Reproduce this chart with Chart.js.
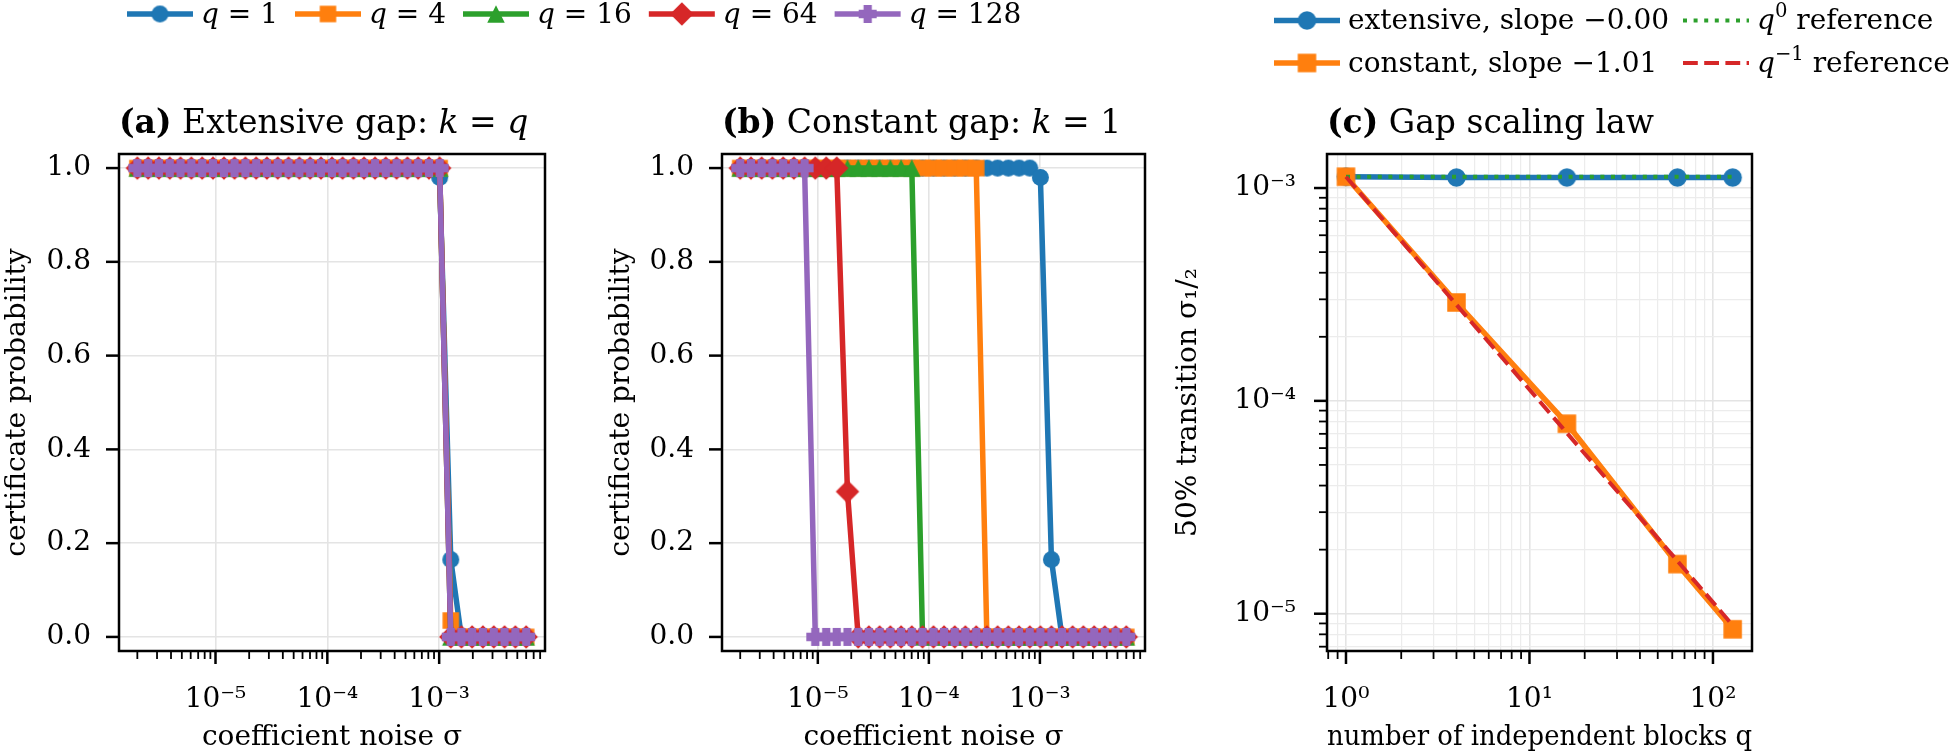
<!DOCTYPE html>
<html>
<head>
<meta charset="utf-8">
<script src="https://cdn.jsdelivr.net/npm/chart.js@4.4.1/dist/chart.umd.min.js"></script>
<style>
  html, body { margin: 0; padding: 0; background: #fff; }
  #wrap { position: relative; width: 1951px; height: 755px; overflow: hidden; }
  #wrap canvas { position: absolute; left: 0; top: 0; }
</style>
</head>
<body>
<div id="wrap">
  <canvas id="chartA" width="1951" height="755"></canvas>
  <canvas id="chartB" width="1951" height="755"></canvas>
  <canvas id="chartC" width="1951" height="755"></canvas>
</div>
<script>
// ---- data ----
const sigma = [
  2.00e-6, 2.50e-6, 3.12e-6, 3.90e-6, 4.87e-6, 6.08e-6, 7.60e-6, 9.49e-6, 1.19e-5, 1.48e-5,
  1.85e-5, 2.31e-5, 2.88e-5, 3.60e-5, 4.50e-5, 5.62e-5, 7.02e-5, 8.77e-5, 1.10e-4, 1.37e-4,
  1.71e-4, 2.13e-4, 2.67e-4, 3.33e-4, 4.16e-4, 5.20e-4, 6.49e-4, 8.11e-4, 1.01e-3, 1.27e-3,
  1.58e-3, 1.97e-3, 2.46e-3, 3.08e-3, 3.84e-3, 4.80e-3, 6.00e-3
];
const qValues = [1, 4, 16, 64, 128];

// (a) extensive gap, k = q
const probA_q1 = [1, 1, 1, 1, 1, 1, 1, 1, 1, 1,  1, 1, 1, 1, 1, 1, 1, 1, 1, 1,
                  1, 1, 1, 1, 1, 1, 1, 1, 0.98, 0.165,  0, 0, 0, 0, 0, 0, 0];
const probA_q4 = [1, 1, 1, 1, 1, 1, 1, 1, 1, 1,  1, 1, 1, 1, 1, 1, 1, 1, 1, 1,
                  1, 1, 1, 1, 1, 1, 1, 1, 1, 0.035,  0, 0, 0, 0, 0, 0, 0];
const probA_q16 = [1, 1, 1, 1, 1, 1, 1, 1, 1, 1,  1, 1, 1, 1, 1, 1, 1, 1, 1, 1,
                   1, 1, 1, 1, 1, 1, 1, 1, 1, 0,  0, 0, 0, 0, 0, 0, 0];
const probA_q64 = [1, 1, 1, 1, 1, 1, 1, 1, 1, 1,  1, 1, 1, 1, 1, 1, 1, 1, 1, 1,
                   1, 1, 1, 1, 1, 1, 1, 1, 1, 0,  0, 0, 0, 0, 0, 0, 0];
const probA_q128 = [1, 1, 1, 1, 1, 1, 1, 1, 1, 1,  1, 1, 1, 1, 1, 1, 1, 1, 1, 1,
                    1, 1, 1, 1, 1, 1, 1, 1, 1, 0,  0, 0, 0, 0, 0, 0, 0];

// (b) constant gap, k = 1
const probB_q1 = [1, 1, 1, 1, 1, 1, 1, 1, 1, 1,  1, 1, 1, 1, 1, 1, 1, 1, 1, 1,
                  1, 1, 1, 1, 1, 1, 1, 1, 0.98, 0.165,  0, 0, 0, 0, 0, 0, 0];
const probB_q4 = [1, 1, 1, 1, 1, 1, 1, 1, 1, 1,  1, 1, 1, 1, 1, 1, 1, 1, 1, 1,
                  1, 1, 1, 0, 0, 0, 0, 0, 0, 0,  0, 0, 0, 0, 0, 0, 0];
const probB_q16 = [1, 1, 1, 1, 1, 1, 1, 1, 1, 1,  1, 1, 1, 1, 1, 1, 1, 0, 0, 0,
                   0, 0, 0, 0, 0, 0, 0, 0, 0, 0,  0, 0, 0, 0, 0, 0, 0];
const probB_q64 = [1, 1, 1, 1, 1, 1, 1, 1, 1, 1,  0.31, 0, 0, 0, 0, 0, 0, 0, 0, 0,
                   0, 0, 0, 0, 0, 0, 0, 0, 0, 0,  0, 0, 0, 0, 0, 0, 0];
const probB_q128 = [1, 1, 1, 1, 1, 1, 1, 0, 0, 0,  0, 0, 0, 0, 0, 0, 0, 0, 0, 0,
                    0, 0, 0, 0, 0, 0, 0, 0, 0, 0,  0, 0, 0, 0, 0, 0, 0];

// (c) gap scaling law
const blockCounts = [1, 4, 16, 64, 128];
const sigmaHalfExtensive = [1.13e-3, 1.12e-3, 1.12e-3, 1.12e-3, 1.12e-3];
const sigmaHalfConstant = [1.13e-3, 2.90e-4, 7.81e-5, 1.71e-5, 8.45e-6];
const refFlat = [1.13e-3, 1.13e-3, 1.13e-3, 1.13e-3, 1.13e-3];
const refInverse = [1.13e-3, 2.83e-4, 7.06e-5, 1.77e-5, 8.83e-6];

// tick labels
const probTicks = [0, 0.2, 0.4, 0.6, 0.8, 1.0];

const colors = ['#1f77b4', '#ff7f0e', '#2ca02c', '#d62728', '#9467bd'];
const shapes = ['circle', 'square', 'triangle', 'diamond', 'plus'];
const shapeSizes = [17, 16.5, 17.5, 23.5, 18];

const FONT = '"DejaVu Serif", serif';
const GRID = '#e4e4e4';
const GRID_MINOR = '#ececec';
Chart.defaults.font.family = FONT;
Chart.defaults.color = '#000';

// ---- helpers ----
function markerImage(shape, size, color) {
  const n = Math.ceil(size) + 4;
  const c = document.createElement('canvas');
  c.width = n; c.height = n;
  const g = c.getContext('2d');
  const m = n / 2, h = size / 2;
  g.fillStyle = color;
  g.beginPath();
  if (shape === 'circle') {
    g.arc(m, m, h, 0, Math.PI * 2);
  } else if (shape === 'square') {
    g.rect(m - h, m - h, size, size);
  } else if (shape === 'triangle') {
    g.moveTo(m, m - h); g.lineTo(m + h, m + h); g.lineTo(m - h, m + h);
  } else if (shape === 'diamond') {
    g.moveTo(m, m - h); g.lineTo(m + h, m); g.lineTo(m, m + h); g.lineTo(m - h, m);
  } else if (shape === 'plus') {
    const a = size * 0.23;
    g.rect(m - a, m - h, 2 * a, size);
    g.rect(m - h, m - a, size, 2 * a);
  }
  g.closePath();
  g.fill();
  return c;
}
const markersAB = shapes.map((s, i) => markerImage(s, shapeSizes[i], colors[i]));

const SUP = {'-': '\u207B', '0': '\u2070', '1': '\u00B9', '2': '\u00B2', '3': '\u00B3',
             '4': '\u2074', '5': '\u2075', '6': '\u2076', '7': '\u2077', '8': '\u2078', '9': '\u2079'};
function powLabel(e) {
  return '10' + String(e).split('').map(ch => SUP[ch]).join('');
}

function logTicks(min, max) {
  const out = [];
  for (let e = Math.floor(Math.log10(min)); e <= Math.ceil(Math.log10(max)); e++) {
    for (let k = 1; k <= 9; k++) {
      const v = k * Math.pow(10, e);
      if (v >= min && v <= max) out.push({value: v, major: k === 1});
    }
  }
  return out;
}

function drawParts(ctx, parts, x, baseline, size) {
  ctx.save();
  ctx.fillStyle = '#000';
  ctx.textAlign = 'left';
  ctx.textBaseline = 'alphabetic';
  parts.forEach(p => {
    let fs = size, y = baseline, style = '';
    if (p.s === 'b') style = 'bold ';
    if (p.s === 'i') style = 'italic ';
    if (p.s === 'sup') { fs = size * 0.7; y = baseline - size * 0.42; }
    ctx.font = style + fs + 'px ' + FONT;
    ctx.fillText(p.t, x, y);
    x += ctx.measureText(p.t).width;
  });
  ctx.restore();
  return x;
}

// frame + matplotlib-like tick marks
const framePlugin = {
  id: 'mplFrame',
  afterDatasetsDraw(chart) {
    const ctx = chart.ctx, a = chart.chartArea;
    ctx.save();
    ctx.strokeStyle = '#000';
    Object.values(chart.scales).forEach(s => {
      s.ticks.forEach(t => {
        const p = s.getPixelForValue(t.value);
        const len = t.major ? 13 : 8;
        ctx.lineWidth = t.major ? 2.5 : 1.8;
        ctx.beginPath();
        if (s.isHorizontal()) { ctx.moveTo(p, a.bottom); ctx.lineTo(p, a.bottom + len); }
        else { ctx.moveTo(a.left, p); ctx.lineTo(a.left - len, p); }
        ctx.stroke();
      });
    });
    ctx.lineWidth = 2.5;
    ctx.strokeRect(a.left, a.top, a.right - a.left, a.bottom - a.top);
    ctx.restore();
  }
};

function titlePlugin(parts) {
  return {
    id: 'mplTitle',
    afterDraw(chart) { drawParts(chart.ctx, parts, chart.chartArea.left, 133, 33); }
  };
}

function legendPlugin(cfg) {
  return {
    id: 'mplLegend',
    afterDraw(chart) {
      const ctx = chart.ctx;
      let x = cfg.startX;
      cfg.items.forEach(item => {
        const ds = chart.data.datasets[item.ds];
        const hx = item.cx !== undefined ? item.cx : x;
        const base = item.base !== undefined ? item.base : cfg.base;
        const hy = base - 8.5;
        ctx.save();
        ctx.strokeStyle = ds.borderColor;
        ctx.lineWidth = ds.borderWidth;
        ctx.setLineDash(ds.borderDash || []);
        ctx.beginPath();
        ctx.moveTo(hx, hy);
        ctx.lineTo(hx + 66, hy);
        ctx.stroke();
        ctx.restore();
        if (ds.pointRadius > 0) {
          const img = ds.pointStyle;
          ctx.drawImage(img, hx + 33 - img.width / 2, hy - img.height / 2);
        }
        const end = drawParts(ctx, item.parts, hx + 66 + 8, base, 28);
        x = end + 17;
      });
    }
  };
}

function logAxis(min, max, title, minorGrid, pad, fit) {
  return {
    type: 'logarithmic', min: min, max: max, bounds: 'data',
    afterBuildTicks: s => { s.ticks = logTicks(min, max); },
    afterFit: fit,
    ticks: {
      autoSkip: false, maxRotation: 0, minRotation: 0, padding: pad,
      font: {size: 28},
      callback: (v, i, t) => t[i].major ? powLabel(Math.round(Math.log10(v))) : ''
    },
    grid: {
      color: c => (c.tick && c.tick.major) ? GRID : (minorGrid ? GRID_MINOR : 'transparent'),
      lineWidth: c => (c.tick && c.tick.major) ? 1.6 : 1.2,
      drawTicks: true, tickLength: 12, tickColor: 'transparent'
    },
    border: {display: false},
    title: {display: true, text: title, font: {size: 28}, padding: 0}
  };
}

function probAxis(width) {
  return {
    type: 'linear', min: -0.03, max: 1.03, bounds: 'data',
    afterBuildTicks: s => { s.ticks = probTicks.map(v => ({value: v, major: true})); },
    afterFit: s => { s.width = width; },
    ticks: {padding: 16, font: {size: 28}, callback: v => v.toFixed(1)},
    grid: {color: GRID, lineWidth: 1.6, drawTicks: true, tickLength: 12, tickColor: 'transparent'},
    border: {display: false},
    title: {display: true, text: 'certificate probability', font: {size: 28}, padding: 0}
  };
}

function probDatasets(series) {
  return series.map((vals, i) => ({
    label: 'q = ' + qValues[i],
    data: vals,
    borderColor: colors[i],
    backgroundColor: colors[i],
    borderWidth: 5.5,
    borderJoinStyle: 'round',
    pointStyle: markersAB[i],
    pointRadius: 8,
    order: 10 - i
  }));
}

const sigmaMin = 1.371e-6, sigmaMax = 8.84e-3;
const xHeightFit = s => { s.height = 104; };

// ---- (a) ----
new Chart(document.getElementById('chartA'), {
  type: 'line',
  data: {labels: sigma, datasets: probDatasets([probA_q1, probA_q4, probA_q16, probA_q64, probA_q128])},
  options: {
    responsive: false, animation: false, devicePixelRatio: 1, events: [],
    layout: {padding: {left: 1, top: 154, right: 1406, bottom: 0}},
    plugins: {legend: {display: false}, tooltip: {enabled: false}},
    scales: {
      x: logAxis(sigmaMin, sigmaMax, 'coefficient noise \u03C3', false, 20, xHeightFit),
      y: probAxis(118)
    }
  },
  plugins: [framePlugin,
    titlePlugin([{t: '(a)', s: 'b'}, {t: ' Extensive gap: '}, {t: 'k', s: 'i'}, {t: ' = '}, {t: 'q', s: 'i'}]),
    legendPlugin({startX: 127, base: 22.5, items: qValues.map((q, i) => ({ds: i, parts: [{t: 'q', s: 'i'}, {t: ' = ' + q}]}))})
  ]
});

// ---- (b) ----
new Chart(document.getElementById('chartB'), {
  type: 'line',
  data: {labels: sigma, datasets: probDatasets([probB_q1, probB_q4, probB_q16, probB_q64, probB_q128])},
  options: {
    responsive: false, animation: false, devicePixelRatio: 1, events: [],
    layout: {padding: {left: 605, top: 154, right: 806, bottom: 0}},
    plugins: {legend: {display: false}, tooltip: {enabled: false}},
    scales: {
      x: logAxis(sigmaMin, sigmaMax, 'coefficient noise \u03C3', false, 20, xHeightFit),
      y: probAxis(117)
    }
  },
  plugins: [framePlugin,
    titlePlugin([{t: '(b)', s: 'b'}, {t: ' Constant gap: '}, {t: 'k', s: 'i'}, {t: ' = 1'}])
  ]
});

// ---- (c) ----
new Chart(document.getElementById('chartC'), {
  type: 'line',
  data: {
    labels: blockCounts,
    datasets: [
      {label: 'extensive, slope \u22120.00', data: sigmaHalfExtensive, borderColor: colors[0], backgroundColor: colors[0],
       borderWidth: 5.5, borderJoinStyle: 'round', pointStyle: markerImage('circle', 18.5, colors[0]), pointRadius: 9, order: 4},
      {label: 'constant, slope \u22121.01', data: sigmaHalfConstant, borderColor: colors[1], backgroundColor: colors[1],
       borderWidth: 5.5, borderJoinStyle: 'round', pointStyle: markerImage('square', 18.5, colors[1]), pointRadius: 9, order: 3},
      {label: 'q^0 reference', data: refFlat, borderColor: colors[2], borderWidth: 4, borderDash: [4, 6.6], pointRadius: 0, order: 2},
      {label: 'q^-1 reference', data: refInverse, borderColor: colors[3], borderWidth: 4, borderDash: [14.8, 6.4], pointRadius: 0, order: 1}
    ]
  },
  options: {
    responsive: false, animation: false, devicePixelRatio: 1, events: [],
    layout: {padding: {left: 1172, top: 154, right: 199, bottom: 0}},
    plugins: {legend: {display: false}, tooltip: {enabled: false}},
    scales: {
      x: logAxis(0.788, 163.2, 'number of independent blocks q', true, 20, xHeightFit),
      y: logAxis(6.68e-6, 1.445e-3, '50% transition \u03C3\u2081/\u2082', true, 19, s => { s.width = 155; })
    }
  },
  plugins: [framePlugin,
    titlePlugin([{t: '(c)', s: 'b'}, {t: ' Gap scaling law'}]),
    legendPlugin({startX: 1274, base: 29, items: [
      {ds: 0, cx: 1274, base: 29, parts: [{t: 'extensive, slope \u22120.00'}]},
      {ds: 2, cx: 1683, base: 29, parts: [{t: 'q', s: 'i'}, {t: '0', s: 'sup'}, {t: ' reference'}]},
      {ds: 1, cx: 1274, base: 71.5, parts: [{t: 'constant, slope \u22121.01'}]},
      {ds: 3, cx: 1683, base: 71.5, parts: [{t: 'q', s: 'i'}, {t: '\u22121', s: 'sup'}, {t: ' reference'}]}
    ]})
  ]
});
</script>
</body>
</html>
